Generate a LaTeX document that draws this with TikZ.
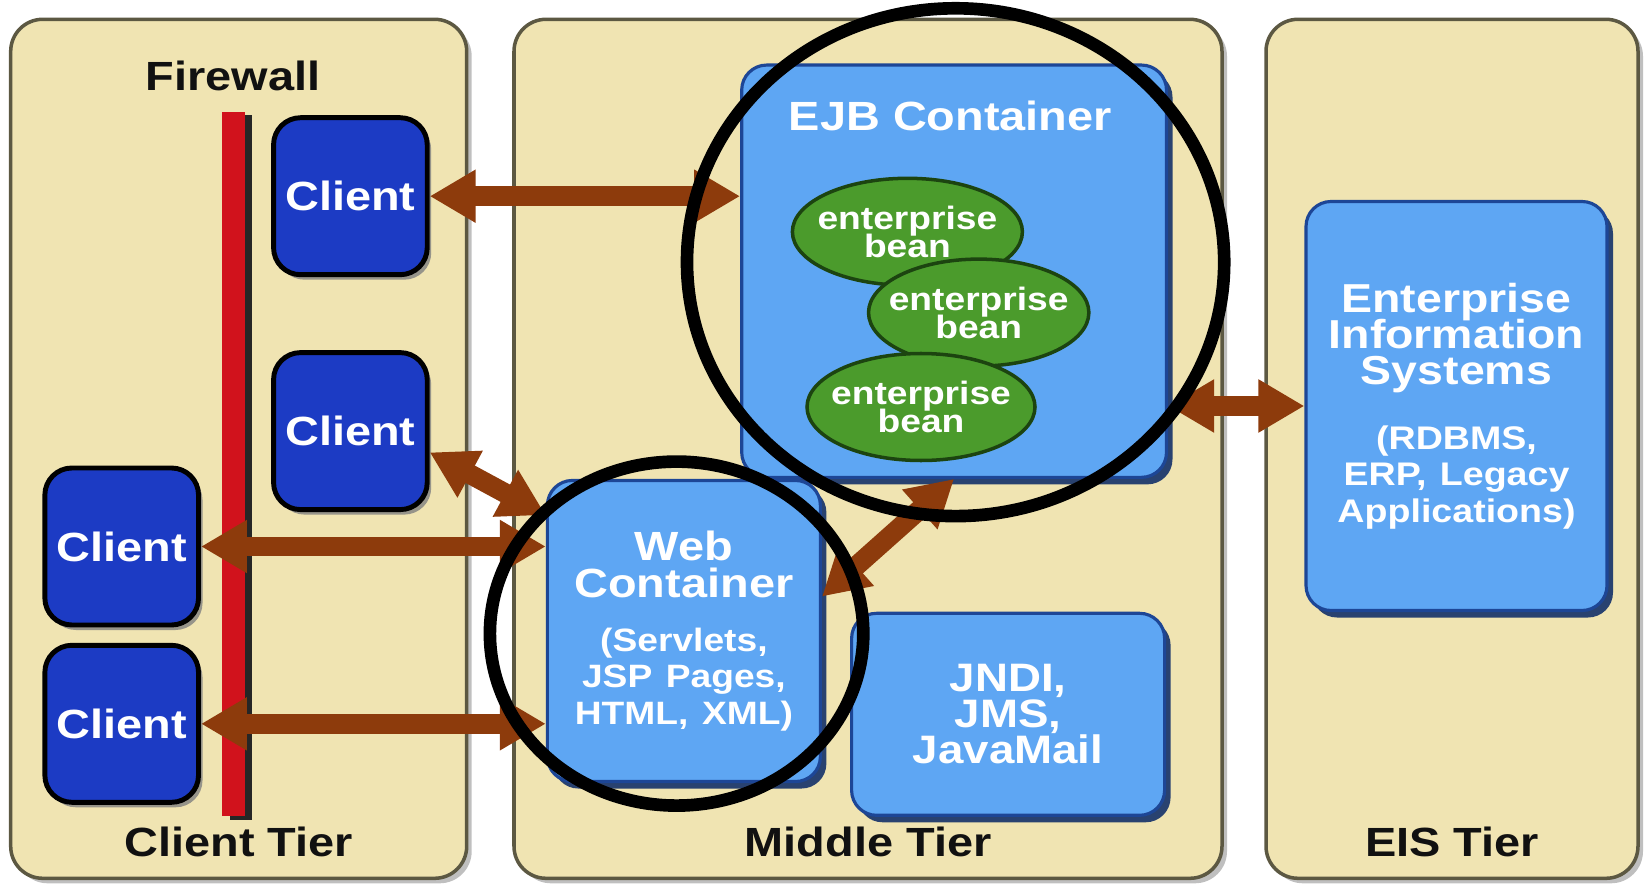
\documentclass[tikz,border=0pt]{standalone}
\usepackage{fontspec}
\setsansfont{Liberation Sans}[FakeStretch=1.15]
\usetikzlibrary{arrows.meta,shadows,shapes.geometric,positioning}
\definecolor{tierfill}{HTML}{F0E4B2}
\definecolor{tieredge}{HTML}{5C5842}
\definecolor{clientblue}{HTML}{1C3BC4}
\definecolor{boxblue}{HTML}{5EA6F3}
\definecolor{boxedge}{HTML}{1D4696}
\definecolor{beangreen}{HTML}{4B9B2C}
\definecolor{beanedge}{HTML}{1C4410}
\definecolor{wallred}{HTML}{D1121C}
\definecolor{linkbrown}{HTML}{8D3B0C}
\definecolor{ink}{HTML}{111111}
\newcommand\boxfont[2]{\sffamily\bfseries\fontsize{#1}{#2}\selectfont\lineskiplimit=-4pt}
\newcommand\detailfont{\fontsize{9.2}{10.4}\selectfont}
\tikzset{
  every node/.style={font=\boxfont{11.6}{10.4},text=ink},
  tier/.style={draw=tieredge,fill=tierfill,line width=1pt,rounded corners=.32cm,
    minimum height=8.59cm,drop shadow={shadow xshift=.05cm,shadow yshift=-.05cm,opacity=.5}},
  client/.style={draw=black,fill=clientblue,line width=1.4pt,rounded corners=.27cm,
    minimum width=1.49cm,minimum height=1.57cm,text=white,
    drop shadow={shadow xshift=.04cm,shadow yshift=-.05cm,opacity=.8}},
  container/.style={draw=boxedge,fill=boxblue,line width=.9pt,rounded corners=.25cm,
    inner xsep=.1cm,text=white,align=center,
    drop shadow={shadow xshift=.06cm,shadow yshift=-.07cm,fill=boxedge!70!black,opacity=.9}},
  bean/.style={ellipse,draw=beanedge,fill=beangreen,line width=1pt,text=white,align=center,
    inner xsep=-.12cm,inner ysep=0pt,minimum height=1.07cm,font=\boxfont{9.2}{8}},
  link/.style={draw=linkbrown,line width=5.6pt,
    {Triangle[length=.46cm,width=.5cm]}-{Triangle[length=.46cm,width=.5cm]}},
  focus/.style={draw=black,line width=3.6pt}
}

\begin{document}
\begin{tikzpicture}[x=1cm,y=1cm]
  \useasboundingbox (0,0) rectangle (16.45,8.843);
  % Three tiers, each captioned at its foot.
  \foreach \name/\x/\w/\title in {clienttier/2.387/4.56/Client Tier,
      middletier/8.68/7.08/Middle Tier,eistier/14.52/3.72/EIS Tier}{
    \node[tier,minimum width=\w cm] (\name) at (\x,4.355) {};
    \node (\name-label) at (\x,.42) {\title};
  }

  % Client tier: the firewall wall and four clients.
  \node (wall-label) at (2.329,8.088) {Firewall};
  \fill[black!85] (2.30,.64) rectangle (2.52,7.69);
  \fill[wallred] (2.224,.682) rectangle (2.45,7.721);
  \foreach \name/\x/\y in {c1/3.504/6.881,c2/3.504/4.532,c3/1.217/3.378,c4/1.217/1.605}
    \node[client] (\name) at (\x,\y) {Client};

  % Middle tier: EJB container with its beans, web container, services.
  \node[container,minimum width=4.248cm,minimum height=4.123cm] (ejb) at (9.541,6.131) {};
  \node[text=white] (ejb-title) at (9.504,7.679) {EJB Container};
  \foreach \name/\x/\y/\w in {bean1/9.074/6.525/2.30,bean2/9.787/5.717/2.05,bean3/9.210/4.773/2.28}
    \node[bean,minimum width=\w cm] (\name) at (\x,\y) {enterprise\\bean};
  \node[container,text width=2.53cm,minimum height=3.011cm] (web) at (6.839,2.533)
    {Web\\Container\\[5pt]\detailfont(Servlets,\\JSP Pages,\\HTML, XML)};
  \node[container,text width=2.93cm,minimum height=2.02cm,font=\boxfont{11.3}{10.3}]
    (naming) at (10.081,1.70) {JNDI,\\JMS,\\JavaMail};

  % EIS tier.
  \node[container,text width=2.81cm,minimum height=4.09cm,font=\boxfont{11.5}{10.3}]
    (eis) at (14.565,4.783)
    {Enterprise\\Information\\Systems\\[8pt]\fontsize{9.3}{10.4}\selectfont(RDBMS,\\ERP, Legacy\\Applications)};

  % Two-way links between the tiers.
  \draw[link] (c1.east) -- (c1.east -| ejb.west);
  \draw[link] (c2.-15) -- (web.140);
  \draw[link] (c3.east) -- (c3.east -| web.west);
  \draw[link] (c4.east) -- (c4.east -| web.west);
  \draw[link] (web.14) -- (ejb.south);
  \draw[link] (eis.west -| ejb.east) -- (eis.west);

  % Highlight rings round the two containers.
  \draw[focus] (9.556,6.221) ellipse [x radius=2.686cm,y radius=2.539cm];
  \draw[focus] (6.766,2.507) ellipse [x radius=1.867cm,y radius=1.72cm];
\end{tikzpicture}
\end{document}
